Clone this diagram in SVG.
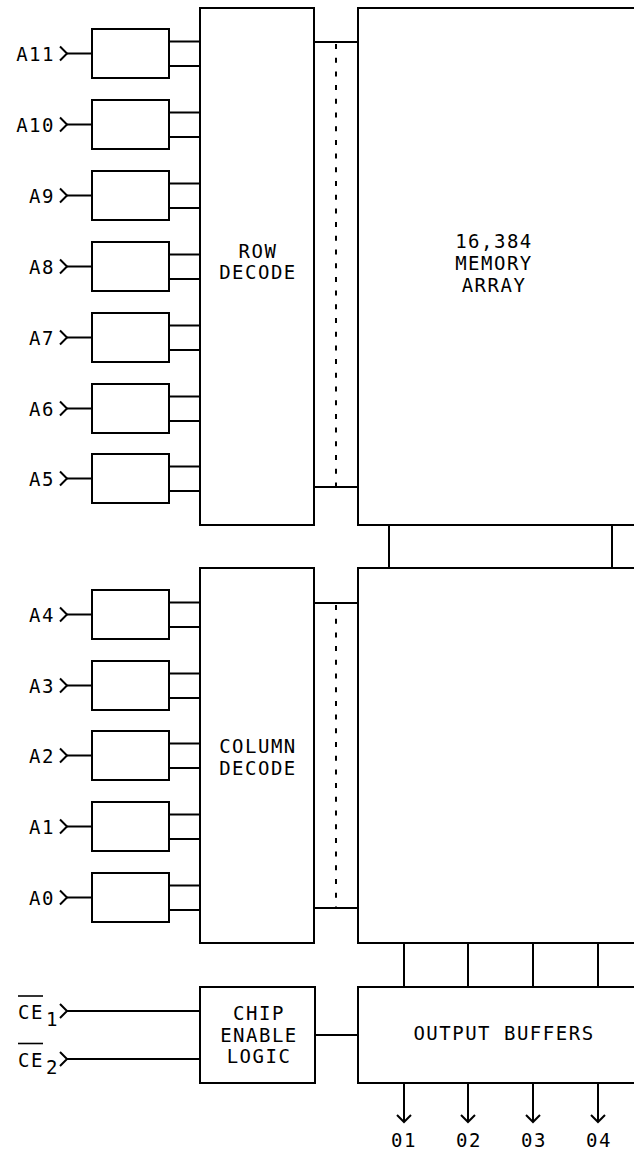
<svg xmlns="http://www.w3.org/2000/svg" width="634" height="1155" viewBox="0 0 634 1155">
<defs>
<style>
.box{fill:#fff;stroke:#000;stroke-width:2}
.ln{fill:none;stroke:#000;stroke-width:2}
.dash{fill:none;stroke:#000;stroke-width:2;stroke-dasharray:5 8.7}
text{font-family:"DejaVu Sans Mono","Liberation Mono",monospace;font-size:19px;letter-spacing:1.5px;fill:#000}
.c{text-anchor:middle}
.e{text-anchor:end}
</style>
<g id="buf">
<polyline class="ln" points="60,17.5 67,24.5 60,31.5"/>
<line class="ln" x1="67" y1="24.5" x2="92" y2="24.5"/>
<rect class="box" x="92" y="0" width="77" height="49"/>
<line class="ln" x1="169" y1="12.5" x2="200" y2="12.5"/>
<line class="ln" x1="169" y1="37" x2="200" y2="37"/>
</g>
</defs>
<rect width="634" height="1155" fill="#fff"/>

<g id="connectors">
<line class="ln" x1="314" y1="42" x2="358" y2="42"/>
<line class="ln" x1="314" y1="487" x2="358" y2="487"/>
<line class="dash" x1="336" y1="44" x2="336" y2="487"/>
<line class="ln" x1="314" y1="603" x2="358" y2="603"/>
<line class="ln" x1="314" y1="908" x2="358" y2="908"/>
<line class="dash" x1="336" y1="605" x2="336" y2="908"/>
<line class="ln" x1="389" y1="525" x2="389" y2="568"/>
<line class="ln" x1="612" y1="525" x2="612" y2="568"/>
<line class="ln" x1="404" y1="943" x2="404" y2="987"/>
<line class="ln" x1="468" y1="943" x2="468" y2="987"/>
<line class="ln" x1="533" y1="943" x2="533" y2="987"/>
<line class="ln" x1="598" y1="943" x2="598" y2="987"/>
<line class="ln" x1="315" y1="1035" x2="358" y2="1035"/>
<polyline class="ln" points="60,1004 67,1011 60,1018"/>
<line class="ln" x1="67" y1="1011" x2="200" y2="1011"/>
<polyline class="ln" points="60,1052 67,1059 60,1066"/>
<line class="ln" x1="67" y1="1059" x2="200" y2="1059"/>
<path class="ln" d="M404,1083V1122M397,1115L404,1122L411,1115"/>
<path class="ln" d="M468,1083V1122M461,1115L468,1122L475,1115"/>
<path class="ln" d="M533,1083V1122M526,1115L533,1122L540,1115"/>
<path class="ln" d="M598,1083V1122M591,1115L598,1122L605,1115"/>
</g>

<g id="in-A11"><use href="#buf" transform="translate(0,29)"/><text class="e" x="55" y="61">A11</text></g>
<g id="in-A10"><use href="#buf" transform="translate(0,100)"/><text class="e" x="55" y="132">A10</text></g>
<g id="in-A9"><use href="#buf" transform="translate(0,171)"/><text class="e" x="55" y="203">A9</text></g>
<g id="in-A8"><use href="#buf" transform="translate(0,242)"/><text class="e" x="55" y="274">A8</text></g>
<g id="in-A7"><use href="#buf" transform="translate(0,313)"/><text class="e" x="55" y="345">A7</text></g>
<g id="in-A6"><use href="#buf" transform="translate(0,384)"/><text class="e" x="55" y="416">A6</text></g>
<g id="in-A5"><use href="#buf" transform="translate(0,454)"/><text class="e" x="55" y="486">A5</text></g>

<g id="in-A4"><use href="#buf" transform="translate(0,590)"/><text class="e" x="55" y="622">A4</text></g>
<g id="in-A3"><use href="#buf" transform="translate(0,661)"/><text class="e" x="55" y="693">A3</text></g>
<g id="in-A2"><use href="#buf" transform="translate(0,731)"/><text class="e" x="55" y="763">A2</text></g>
<g id="in-A1"><use href="#buf" transform="translate(0,802)"/><text class="e" x="55" y="834">A1</text></g>
<g id="in-A0"><use href="#buf" transform="translate(0,873)"/><text class="e" x="55" y="905">A0</text></g>

<g id="row-decode">
<rect class="box" x="200" y="8" width="114" height="517"/>
<text class="c" x="258" y="258">ROW</text>
<text class="c" x="258" y="279">DECODE</text>
</g>

<g id="memory-array">
<rect class="box" x="358" y="8" width="300" height="517"/>
<text class="c" x="494" y="248">16,384</text>
<text class="c" x="494" y="270">MEMORY</text>
<text class="c" x="494" y="292">ARRAY</text>
</g>

<g id="column-decode">
<rect class="box" x="200" y="568" width="114" height="375"/>
<text class="c" x="258" y="753">COLUMN</text>
<text class="c" x="258" y="775">DECODE</text>
</g>

<g id="column-array">
<rect class="box" x="358" y="568" width="300" height="375"/>
</g>

<g id="chip-enable">
<rect class="box" x="200" y="987" width="115" height="96"/>
<text class="c" x="259" y="1020">CHIP</text>
<text class="c" x="259" y="1042">ENABLE</text>
<text class="c" x="259" y="1063">LOGIC</text>
</g>

<g id="output-buffers">
<rect class="box" x="358" y="987" width="300" height="96"/>
<text class="c" x="504" y="1040">OUTPUT BUFFERS</text>
</g>

<g id="ce-labels">
<text x="18" y="1019">CE</text>
<text x="46" y="1026">1</text>
<line x1="18" y1="996" x2="43" y2="996" stroke="#000" stroke-width="1.6"/>
<text x="18" y="1067">CE</text>
<text x="46" y="1074">2</text>
<line x1="18" y1="1043.5" x2="43" y2="1043.5" stroke="#000" stroke-width="1.6"/>
</g>

<g id="out-labels">
<text class="c" x="404" y="1147">01</text>
<text class="c" x="469" y="1147">02</text>
<text class="c" x="534" y="1147">03</text>
<text class="c" x="599" y="1147">04</text>
</g>
</svg>
